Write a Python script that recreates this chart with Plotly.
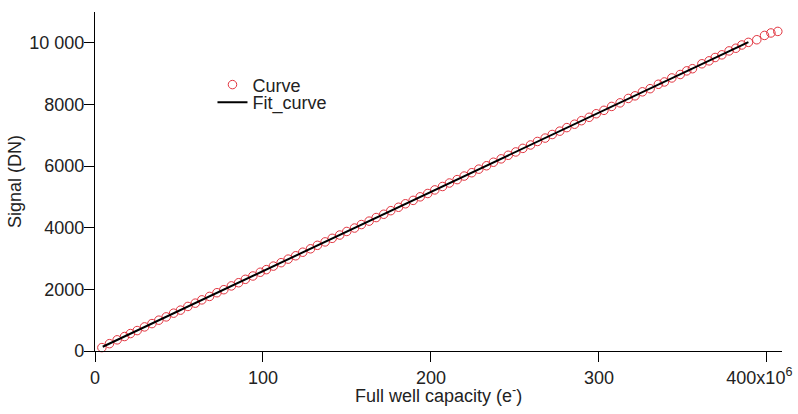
import plotly.graph_objects as go

# Full well capacity in units of 1e6 electrons
curve_x = [4.1, 8.6, 13.2, 17.6, 21.1, 25.1, 29.5, 33.9, 38.0, 42.4, 46.8, 50.9,
           55.3, 59.7, 63.6, 68.2, 72.6, 76.7, 81.2, 85.5, 89.5, 94.0, 98.4, 102.0,
           106.2, 110.8, 115.0, 119.5, 123.7, 128.3, 132.4, 137.0, 141.2, 145.7, 149.9, 154.5,
           158.6, 163.2, 167.4, 171.9, 176.1, 180.7, 184.8, 189.4, 193.6, 198.1, 202.3, 206.9,
           211.0, 215.6, 219.8, 224.3, 228.5, 233.1, 237.2, 241.8, 246.0, 250.5, 254.7, 259.3,
           263.4, 268.0, 272.2, 276.7, 280.9, 285.5, 289.6, 294.2, 298.4, 303.0, 307.6,
           312.6, 317.5, 321.5, 325.9, 330.5, 335.4, 339.0, 343.4, 348.4, 352.3, 355.7, 361.3,
           365.6, 369.2, 373.2, 377.5, 381.5, 385.1, 389.0, 394.0, 398.6, 402.4, 406.5]
curve_y = [110, 238, 362, 470, 566, 663, 782, 889, 1000, 1107, 1228, 1326,
           1446, 1552, 1659, 1771, 1891, 1989, 2112, 2216, 2326, 2434, 2555, 2640,
           2755, 2866, 2981, 3090, 3205, 3316, 3429, 3540, 3656, 3763, 3879, 3990,
           4103, 4214, 4330, 4437, 4553, 4664, 4777, 4887, 5003, 5111, 5227, 5338,
           5451, 5561, 5677, 5785, 5901, 6011, 6125, 6235, 6351, 6459, 6575, 6685,
           6799, 6909, 7025, 7133, 7249, 7359, 7473, 7583, 7699, 7809, 7936,
           8052, 8195, 8280, 8410, 8512, 8655, 8730, 8860, 8972, 9090, 9160, 9320,
           9415, 9524, 9610, 9737, 9824, 9930, 10015, 10100, 10240, 10320, 10370]

fit_x = [4.6, 389.0]
fit_y = [138, 10025]

x_tickvals = [0, 100, 200, 300, 400]
x_ticktext = ["0", "100", "200", "300", "400x10<sup>6</sup>\u00a0\u00a0\u00a0"]
y_tickvals = [0, 2000, 4000, 6000, 8000, 10000]
y_ticktext = ["0", "2000", "4000", "6000", "8000", "10 000"]

x_title = "Full well capacity (e<sup>-</sup>)"
y_title = "Signal (DN)"

FONT = "Liberation Sans, Arial, sans-serif"
TXT = "#222222"
FS = 18

fig = go.Figure()
fig.add_trace(go.Scatter(
    x=curve_x, y=curve_y, mode="markers", name="Curve", legend="legend",
    marker=dict(symbol="circle-open", size=8.5, color="#E2343F", line=dict(width=1)),
    cliponaxis=False,
))
fig.add_trace(go.Scatter(
    x=fit_x, y=fit_y, mode="lines", name="Fit_curve", legend="legend2",
    line=dict(color="black", width=2),
    cliponaxis=False,
))

leg_common = dict(xanchor="left", yanchor="middle", bgcolor="rgba(0,0,0,0)",
                  font=dict(size=FS, family=FONT, color=TXT), itemwidth=30,
                  borderwidth=0)

fig.update_layout(
    width=798, height=414,
    margin=dict(l=95, r=16, t=12, b=63),
    paper_bgcolor="white", plot_bgcolor="white",
    font=dict(family=FONT, size=FS, color=TXT),
    showlegend=True,
    legend=dict(x=0.171, y=0.785, **leg_common),
    legend2=dict(x=0.171, y=0.733, **leg_common),
    xaxis=dict(
        range=[0, 409], showgrid=False, zeroline=False, automargin=False,
        showline=True, linecolor="black", linewidth=1.3,
        ticks="outside", ticklen=10, tickwidth=1.2, tickcolor="black",
        tickvals=x_tickvals, ticktext=x_ticktext, ticklabeloverflow="allow",
        tickfont=dict(size=FS, family=FONT, color=TXT),
    ),
    yaxis=dict(
        range=[0, 11000], showgrid=False, zeroline=False, automargin=False,
        showline=True, linecolor="black", linewidth=1.3,
        ticks="outside", ticklen=10, tickwidth=1.2, tickcolor="black",
        tickvals=y_tickvals, ticktext=y_ticktext, ticklabelstandoff=-4,
        tickfont=dict(size=FS, family=FONT, color=TXT),
        title=dict(text=y_title, standoff=2, font=dict(size=FS, family=FONT, color=TXT)),
    ),
    annotations=[dict(text=x_title, xref="paper", yref="paper", x=0.5, y=-0.127,
                      xanchor="center", yanchor="middle", showarrow=False,
                      font=dict(size=FS, family=FONT, color=TXT))],
)

fig.write_html("out.html", config={"displayModeBar": False},
               post_script="document.body.style.margin='0';")
